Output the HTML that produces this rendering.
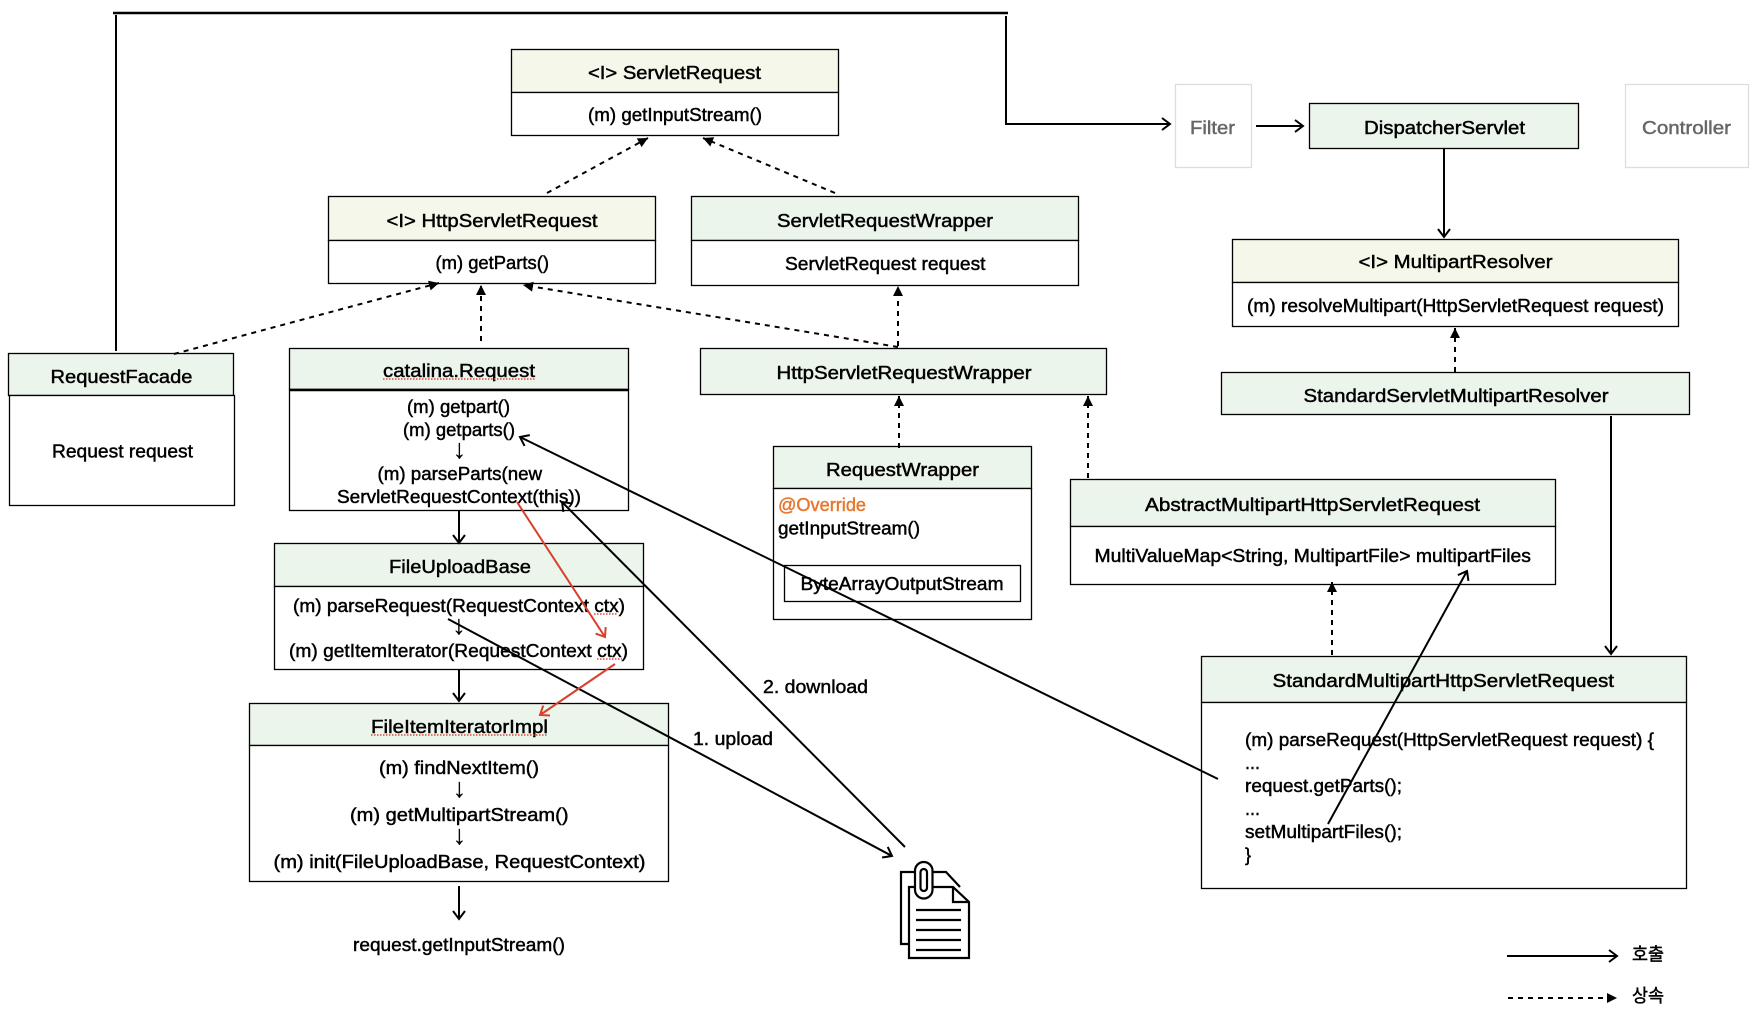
<!DOCTYPE html>
<html><head><meta charset="utf-8"><style>
html,body{margin:0;padding:0;background:#fff}
svg{display:block}
text{font-family:"Liberation Sans","Noto Sans CJK KR",sans-serif;font-size:18px;fill:#000;stroke:#000;stroke-width:.45px}
.ar{font-size:27px;stroke-width:.2px}
.b{fill:#fff;stroke:#000;stroke-width:1.3}
.g{fill:#ebf5ec;stroke:#000;stroke-width:1.3}
.y{fill:#f5f7ea;stroke:#000;stroke-width:1.3}
.s{fill:none;stroke:#000;stroke-width:2;marker-end:url(#o)}
.d{fill:none;stroke:#000;stroke-width:2;stroke-dasharray:5 5;marker-end:url(#t)}
.r{fill:none;stroke:#d9402b;stroke-width:2;marker-end:url(#or)}
.u{fill:none;stroke:#e0483a;stroke-width:1.5;stroke-dasharray:1.5 1.5}
</style></head><body>
<svg width="1762" height="1028" viewBox="0 0 1762 1028" xmlns="http://www.w3.org/2000/svg">
<defs>
<marker id="o" markerUnits="userSpaceOnUse" markerWidth="16" markerHeight="16" refX="11" refY="8" orient="auto"><path d="M3 2 L11 8 L3 14" fill="none" stroke="#000" stroke-width="2"/></marker>
<marker id="or" markerUnits="userSpaceOnUse" markerWidth="16" markerHeight="16" refX="11" refY="8" orient="auto"><path d="M3 2 L11 8 L3 14" fill="none" stroke="#d9402b" stroke-width="2"/></marker>
<marker id="t" markerUnits="userSpaceOnUse" markerWidth="14" markerHeight="14" refX="11" refY="7" orient="auto"><path d="M1 2 L11 7 L1 12Z" fill="#000"/></marker>
</defs>

<!-- boxes -->
<rect class="y" x="511.5" y="49.5" width="327" height="43"/><rect class="b" x="511.5" y="92.5" width="327" height="43"/>
<rect class="y" x="328.5" y="196.5" width="327" height="44"/><rect class="b" x="328.5" y="240.5" width="327" height="43"/>
<rect class="g" x="691.5" y="196.5" width="387" height="44"/><rect class="b" x="691.5" y="240.5" width="387" height="45"/>
<rect class="g" x="8.5" y="353.5" width="225" height="42"/><rect class="b" x="9.5" y="395.5" width="225" height="110"/>
<rect class="g" x="289.5" y="348.5" width="339" height="41"/><rect class="b" x="289.5" y="389.5" width="339" height="121"/><line x1="289" y1="390" x2="629" y2="390" stroke="#000" stroke-width="2.4"/>
<rect class="g" x="700.5" y="348.5" width="406" height="46"/>
<rect class="g" x="773.5" y="446.5" width="258" height="42"/><rect class="b" x="773.5" y="488.5" width="258" height="131"/>
<rect class="b" x="784.5" y="565.5" width="236" height="36"/>
<rect class="g" x="1070.5" y="479.5" width="485" height="47"/><rect class="b" x="1070.5" y="526.5" width="485" height="58"/>
<rect class="g" x="1201.5" y="656.5" width="485" height="46"/><rect class="b" x="1201.5" y="702.5" width="485" height="186"/>
<rect fill="#fff" stroke="#ddd" stroke-width="1.3" x="1175.5" y="84.5" width="76" height="83"/>
<rect fill="#fff" stroke="#ddd" stroke-width="1.3" x="1625.5" y="84.5" width="123" height="83"/>
<rect class="g" x="1309.5" y="103.5" width="269" height="45"/>
<rect class="y" x="1232.5" y="239.5" width="446" height="43"/><rect class="b" x="1232.5" y="282.5" width="446" height="44"/>
<rect class="g" x="1221.500" y="372.5" width="468" height="42"/>
<rect class="g" x="274.5" y="543.5" width="369" height="43"/><rect class="b" x="274.5" y="586.5" width="369" height="83"/>
<rect class="g" x="249.5" y="703.5" width="419" height="42"/><rect class="b" x="249.5" y="745.5" width="419" height="136"/>

<!-- text -->
<text x="588" y="79" textLength="173" lengthAdjust="spacingAndGlyphs">&lt;I&gt; ServletRequest</text>
<text x="588" y="121" textLength="174" lengthAdjust="spacingAndGlyphs">(m) getInputStream()</text>
<text x="386.5" y="227" textLength="211" lengthAdjust="spacingAndGlyphs">&lt;I&gt; HttpServletRequest</text>
<text x="435.5" y="269" textLength="113.5" lengthAdjust="spacingAndGlyphs">(m) getParts()</text>
<text x="777" y="227" textLength="216" lengthAdjust="spacingAndGlyphs">ServletRequestWrapper</text>
<text x="785" y="270" textLength="200.5" lengthAdjust="spacingAndGlyphs">ServletRequest request</text>
<text x="50.5" y="383" textLength="142" lengthAdjust="spacingAndGlyphs">RequestFacade</text>
<text x="52" y="457.5" textLength="141" lengthAdjust="spacingAndGlyphs">Request request</text>
<text x="383" y="377" textLength="152" lengthAdjust="spacingAndGlyphs">catalina.Request</text>
<text x="407" y="413" textLength="103" lengthAdjust="spacingAndGlyphs">(m) getpart()</text>
<text x="403" y="436" textLength="112" lengthAdjust="spacingAndGlyphs">(m) getparts()</text>
<text class="ar" x="459.5" y="458" text-anchor="middle">↓</text>
<text x="377.5" y="480" textLength="164.6" lengthAdjust="spacingAndGlyphs">(m) parseParts(new</text>
<text x="337" y="503" textLength="244" lengthAdjust="spacingAndGlyphs">ServletRequestContext(this))</text>
<text x="776.5" y="379" textLength="255" lengthAdjust="spacingAndGlyphs">HttpServletRequestWrapper</text>
<text x="826" y="476" textLength="153" lengthAdjust="spacingAndGlyphs">RequestWrapper</text>
<text x="778" y="511" textLength="88" lengthAdjust="spacingAndGlyphs" style="fill:#e8772e;stroke:#e8772e">@Override</text>
<text x="778" y="534.5" textLength="142" lengthAdjust="spacingAndGlyphs">getInputStream()</text>
<text x="800.5" y="590" textLength="203" lengthAdjust="spacingAndGlyphs">ByteArrayOutputStream</text>
<text x="1145" y="511" textLength="335" lengthAdjust="spacingAndGlyphs">AbstractMultipartHttpServletRequest</text>
<text x="1094.5" y="562" textLength="436.5" lengthAdjust="spacingAndGlyphs">MultiValueMap&lt;String, MultipartFile&gt; multipartFiles</text>
<text x="1272.5" y="687" textLength="341.5" lengthAdjust="spacingAndGlyphs">StandardMultipartHttpServletRequest</text>
<text x="1245" y="746" textLength="409" lengthAdjust="spacingAndGlyphs">(m) parseRequest(HttpServletRequest request) {</text>
<text x="1245" y="769" textLength="15" lengthAdjust="spacingAndGlyphs">...</text>
<text x="1245" y="792" textLength="157" lengthAdjust="spacingAndGlyphs">request.getParts();</text>
<text x="1245" y="815" textLength="15" lengthAdjust="spacingAndGlyphs">...</text>
<text x="1245" y="838" textLength="157" lengthAdjust="spacingAndGlyphs">setMultipartFiles();</text>
<text x="1245" y="861">}</text>
<text x="1190" y="134" textLength="45" lengthAdjust="spacingAndGlyphs" style="fill:#666;stroke:#666">Filter</text>
<text x="1642" y="134" textLength="89" lengthAdjust="spacingAndGlyphs" style="fill:#666;stroke:#666">Controller</text>
<text x="1364" y="134" textLength="161" lengthAdjust="spacingAndGlyphs">DispatcherServlet</text>
<text x="1358.5" y="268" textLength="194" lengthAdjust="spacingAndGlyphs">&lt;I&gt; MultipartResolver</text>
<text x="1247" y="312" textLength="417" lengthAdjust="spacingAndGlyphs">(m) resolveMultipart(HttpServletRequest request)</text>
<text x="1303.5" y="402" textLength="305" lengthAdjust="spacingAndGlyphs">StandardServletMultipartResolver</text>
<text x="389" y="573" textLength="142" lengthAdjust="spacingAndGlyphs">FileUploadBase</text>
<text x="293" y="612" textLength="332" lengthAdjust="spacingAndGlyphs">(m) parseRequest(RequestContext ctx)</text>
<text class="ar" x="459" y="634" text-anchor="middle">↓</text>
<text x="289" y="657" textLength="339" lengthAdjust="spacingAndGlyphs">(m) getItemIterator(RequestContext ctx)</text>
<text x="371" y="733" textLength="177" lengthAdjust="spacingAndGlyphs">FileItemIteratorImpl</text>
<text x="379" y="774" textLength="160" lengthAdjust="spacingAndGlyphs">(m) findNextItem()</text>
<text class="ar" x="459.5" y="797" text-anchor="middle">↓</text>
<text x="350" y="821" textLength="218.5" lengthAdjust="spacingAndGlyphs">(m) getMultipartStream()</text>
<text class="ar" x="459.5" y="844" text-anchor="middle">↓</text>
<text x="273.5" y="868" textLength="372" lengthAdjust="spacingAndGlyphs">(m) init(FileUploadBase, RequestContext)</text>
<text x="353" y="951" textLength="212" lengthAdjust="spacingAndGlyphs">request.getInputStream()</text>
<text x="763" y="693" textLength="105" lengthAdjust="spacingAndGlyphs">2. download</text>
<text x="693" y="745" textLength="80" lengthAdjust="spacingAndGlyphs">1. upload</text>
<text x="1632" y="960.5" textLength="32" lengthAdjust="spacingAndGlyphs">호출</text>
<text x="1632" y="1002" textLength="32" lengthAdjust="spacingAndGlyphs">상속</text>

<!-- squiggles -->
<line class="u" x1="383" y1="379" x2="535" y2="379"/>
<line class="u" x1="594" y1="614" x2="618" y2="614"/>
<line class="u" x1="597" y1="659" x2="622" y2="659"/>
<line class="u" x1="371" y1="735" x2="548" y2="735"/>

<!-- connectors -->
<path d="M113 13H1008" fill="none" stroke="#000" stroke-width="2.6"/>
<line x1="116" y1="15" x2="116" y2="351" stroke="#000" stroke-width="2"/>
<path class="s" d="M1006 16V124H1170"/>
<path class="s" d="M1256 126H1303"/>
<path class="s" d="M1444 148V237"/>
<path class="s" d="M1611 416V654"/>
<path class="s" d="M459 511V543"/>
<path class="s" d="M459 669V701"/>
<path class="s" d="M459 886V919"/>
<path class="d" d="M547 193L648 138"/>
<path class="d" d="M835 193L703 138"/>
<path class="d" d="M174 354L439 283"/>
<path class="d" d="M481 341V285"/>
<path class="d" d="M898 347L523 285"/>
<path class="d" d="M898 346V286"/>
<path class="d" d="M899 448V396"/>
<path class="d" d="M1088 478V396"/>
<path class="d" d="M1455 372V328"/>
<path class="d" d="M1332 655V582"/>
<path class="s" d="M448 619L892 856"/>
<path class="s" d="M905 847L562 502"/>
<path class="s" d="M1218 779L520 437"/>
<path class="s" d="M1328 824L1467 571"/>
<path class="r" d="M517 502L605 637"/>
<path class="r" d="M615 664L540 715"/>
<path class="s" d="M1507 956H1617"/>
<path class="d" d="M1508 998H1617"/>

<!-- icon -->
<g fill="none" stroke="#000" stroke-width="2.2">
<path d="M909 944H901V872H946L960 887"/>
<path d="M909 887H953L969 902V958H909Z" fill="#fff"/>
<path d="M953 887V902H969"/>
<path d="M916 910H961M916 920H961M916 930H961M916 940H961M916 950H961"/>
<rect x="915" y="862" width="17.5" height="36.500" rx="8.750" fill="#fff"/>
<rect x="920.500" y="869" width="6.500" height="22" rx="3.250"/>
</g>
</svg>
</body></html>
